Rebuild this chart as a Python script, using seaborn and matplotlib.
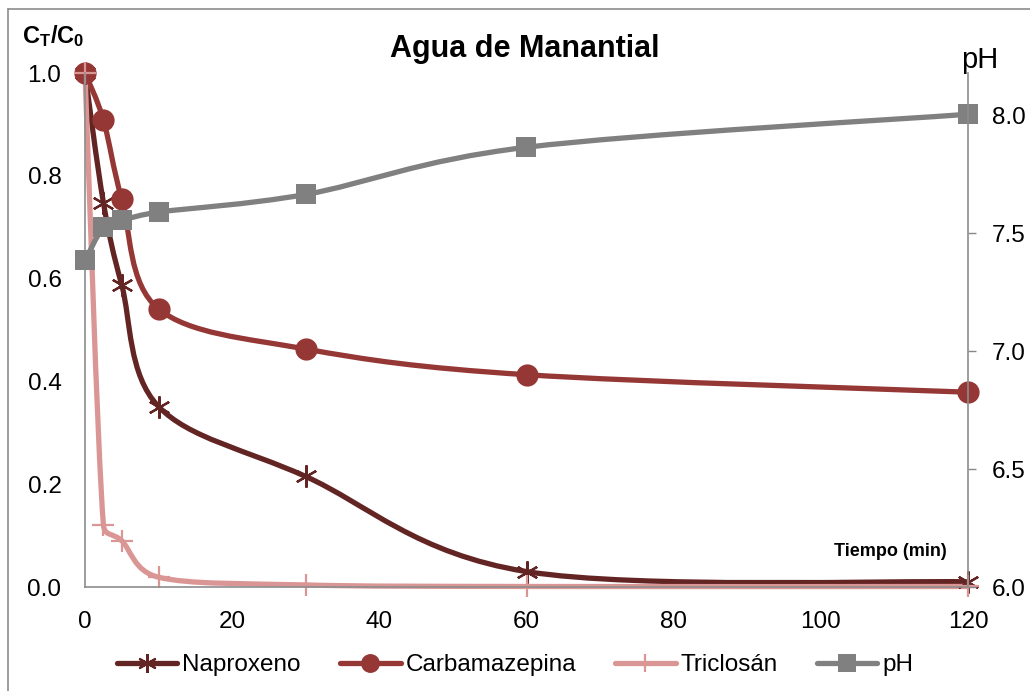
import numpy as np
import pandas as pd
import matplotlib
matplotlib.use("Agg")
import matplotlib.pyplot as plt
import seaborn as sns
from matplotlib.path import Path
from matplotlib.patches import PathPatch
from matplotlib.lines import Line2D

# ---------------- data ----------------
time_min = [0, 2.5, 5, 10, 30, 60, 120]
naproxeno = [1.0, 0.748, 0.587, 0.351, 0.215, 0.030, 0.010]
carbamazepina = [1.0, 0.909, 0.755, 0.541, 0.463, 0.413, 0.379]
triclosan = [1.0, 0.121, 0.090, 0.019, 0.004, 0.001, 0.001]
ph = [7.385, 7.525, 7.555, 7.59, 7.665, 7.865, 8.005]

series_names = ["Naproxeno", "Carbamazepina", "Triclosán", "pH"]
title = "Agua de Manantial"
x_ticks = [0, 20, 40, 60, 80, 100, 120]
y_ticks = [0.0, 0.2, 0.4, 0.6, 0.8, 1.0]
ph_ticks = [6.0, 6.5, 7.0, 7.5, 8.0]

colors = {"Naproxeno": "#632523", "Carbamazepina": "#953735",
          "Triclosán": "#DA9694", "pH": "#808080"}

sns.set_style("white")
plt.rcParams["font.family"] = ["Liberation Sans", "DejaVu Sans"]
plt.rcParams["mathtext.fontset"] = "custom"
plt.rcParams["mathtext.rm"] = "Liberation Sans"
plt.rcParams["mathtext.bf"] = "Liberation Sans:bold"
plt.rcParams["mathtext.it"] = "Liberation Sans:italic"
for k in ["text.color", "axes.labelcolor", "xtick.color", "ytick.color"]:
    plt.rcParams[k] = "black"

W, H = 1030, 691
fig = plt.figure(figsize=(W / 100, H / 100), dpi=100)
left, right, bottom, top = 85, 968, 587, 73
ax = fig.add_axes([left / W, 1 - bottom / H, (right - left) / W, (bottom - top) / H])
ax2 = ax.twinx()

ax.set_xlim(0, 120)
ax.set_ylim(0, 1.0)
ax2.set_ylim(6.0, 8.18)

df = pd.DataFrame({"t": time_min, "Naproxeno": naproxeno,
                   "Carbamazepina": carbamazepina,
                   "Triclosán": triclosan, "pH": ph})


def smooth_curve(axis, xs, ys, color, lw=3.8, z=1):
    pts = axis.transData.transform(np.column_stack([xs, ys]))
    n = len(pts)
    verts = [pts[0]]
    codes = [Path.MOVETO]
    for i in range(n - 1):
        p0 = pts[i - 1] if i > 0 else pts[i]
        p1 = pts[i]
        p2 = pts[i + 1]
        p3 = pts[i + 2] if i + 2 < n else pts[i + 1]
        d12 = np.linalg.norm(p2 - p1)
        t1 = (p2 - p0) / 6.0
        t2 = (p3 - p1) / 6.0
        for t in (t1, t2):
            m = np.linalg.norm(t)
            if m > d12 / 2 and m > 0:
                t *= (d12 / 2) / m
        verts += [p1 + t1, p2 - t2, p2]
        codes += [Path.CURVE4] * 3
    data_verts = axis.transData.inverted().transform(np.array(verts))
    patch = PathPatch(Path(data_verts, codes), fill=False, edgecolor=color,
                      linewidth=lw, capstyle="round", joinstyle="round",
                      transform=axis.transData, zorder=z, clip_on=False)
    axis.add_patch(patch)


marker_specs = {
    "Naproxeno": dict(marker=(6, 2, 0), markersize=16, markeredgewidth=1.6),
    "Carbamazepina": dict(marker="o", markersize=16, markeredgewidth=0),
    "Triclosán": dict(marker="+", markersize=16, markeredgewidth=1.6),
    "pH": dict(marker="s", markersize=15, markeredgewidth=0),
}

for name in ["Naproxeno", "Carbamazepina", "Triclosán"]:
    smooth_curve(ax, df["t"], df[name], colors[name])
    sns.lineplot(data=df, x="t", y=name, ax=ax, color=colors[name],
                 linestyle="", markeredgecolor=colors[name],
                 markerfacecolor=colors[name], legend=False, clip_on=False,
                 **marker_specs[name])

smooth_curve(ax2, df["t"], df["pH"], colors["pH"])
sns.lineplot(data=df, x="t", y="pH", ax=ax2, color=colors["pH"], linestyle="",
             markeredgecolor=colors["pH"], markerfacecolor=colors["pH"],
             legend=False, clip_on=False, **marker_specs["pH"])

# restore limits (seaborn may autoscale)
ax.set_xlim(0, 120)
ax.set_ylim(0, 1.0)
ax2.set_ylim(6.0, 8.18)

ax.set_xlabel("")
ax.set_ylabel("")
ax2.set_ylabel("")

ax.set_xticks(x_ticks)
ax.set_xticklabels([str(v) for v in x_ticks])
ax.set_yticks(y_ticks)
ax.set_yticklabels([f"{v:.1f}" for v in y_ticks])
ax2.set_yticks(ph_ticks)
ax2.set_yticklabels([f"{v:.1f}" for v in ph_ticks])

ax.tick_params(axis="x", length=0, pad=17, labelsize=17.5)
ax.tick_params(axis="y", length=0, pad=17, labelsize=17.5)
ax2.tick_params(axis="y", length=6, width=1, color="#888888", pad=11,
                labelsize=17.5, direction="out")

for a in (ax, ax2):
    for s in a.spines.values():
        s.set_visible(False)
ax.spines["left"].set_visible(True)
ax.spines["bottom"].set_visible(True)
ax2.spines["right"].set_visible(True)
for s in (ax.spines["left"], ax.spines["bottom"], ax2.spines["right"]):
    s.set_color("#8c8c8c")
    s.set_linewidth(1.2)
ax.grid(False)
ax2.grid(False)
ax.patch.set_visible(False)

# texts
fig.text(525 / W, 1 - 49 / H, title, ha="center", va="center",
         fontsize=22, fontweight="bold")
fig.text(22 / W, 1 - 36 / H, r"$\mathbf{C_T/C_0}$", ha="left", va="center",
         fontsize=17)
fig.text(980 / W, 1 - 60 / H, "pH", ha="center", va="center", fontsize=21)
fig.text(947 / W, 1 - 552 / H, "Tiempo (min)", ha="right", va="center",
         fontsize=13, fontweight="bold")

# legend
handles = []
for name in series_names:
    spec = marker_specs[name]
    handles.append(Line2D([], [], color=colors[name], lw=3.8,
                          marker=spec["marker"], markersize=spec["markersize"] * 0.85,
                          markeredgewidth=spec["markeredgewidth"],
                          markeredgecolor=colors[name],
                          markerfacecolor=colors[name]))
fig.legend(handles, series_names, loc="center", bbox_to_anchor=(0.5, 1 - 665 / H),
           ncol=4, frameon=False, fontsize=17.5, handlelength=2.5,
           handletextpad=0.2, columnspacing=1.6)

# outer chart border (top and left visible)
fig.add_artist(Line2D([8 / W, 1.0], [1 - 9 / H, 1 - 9 / H], color="#8c8c8c",
                      lw=1.2, transform=fig.transFigure))
fig.add_artist(Line2D([8 / W, 8 / W], [0, 1 - 9 / H], color="#8c8c8c",
                      lw=1.2, transform=fig.transFigure))

fig.savefig("out.png", dpi=100)
